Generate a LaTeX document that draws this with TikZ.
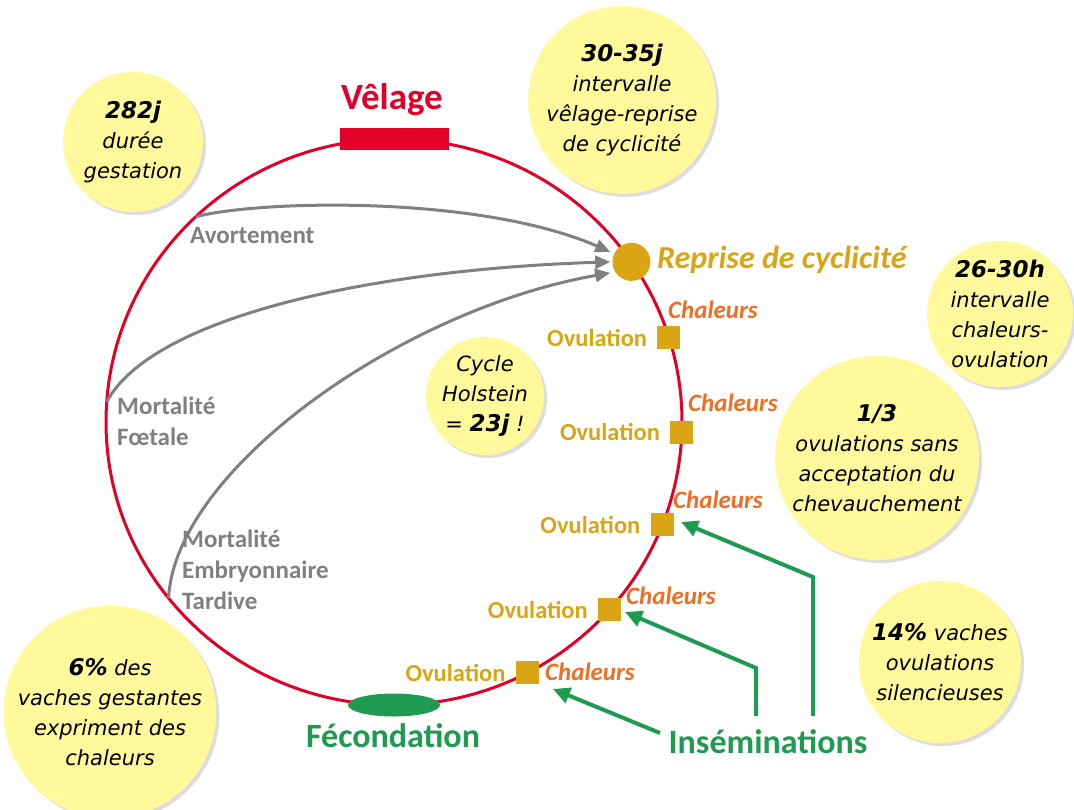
\documentclass[tikz,border=0pt]{standalone}
\usepackage{fontspec}
\setmainfont{Carlito}
\newfontfamily\hand{DejaVu Sans}
\usetikzlibrary{arrows.meta,shapes.geometric,shadows,calc}
\definecolor{cred}{RGB}{226,0,40}
\definecolor{gold}{RGB}{218,165,20}
\definecolor{orng}{RGB}{238,110,35}
\definecolor{greyt}{RGB}{128,128,128}
\definecolor{grn}{RGB}{30,155,80}
\definecolor{yel}{RGB}{255,249,155}
\newcommand\bnum[1]{{\bfseries\fontsize{23}{30}\selectfont #1}}
\begin{document}
\begin{tikzpicture}[x=1pt,y=1pt,
  bubble/.style={circle, fill=yel, draw=none, inner sep=0pt, align=center,
    drop shadow={shadow xshift=3pt, shadow yshift=-3pt, opacity=0.22, fill=black!60},
    font=\hand\itshape\fontsize{21}{30}\selectfont},
  sq/.style={rectangle, fill=gold, minimum size=23pt, inner sep=0pt},
  ovu/.style={text=gold, font=\bfseries\fontsize{24.5}{26}\selectfont, anchor=east, inner sep=2pt},
  chal/.style={text=orng, font=\bfseries\itshape\fontsize{25}{27}\selectfont, anchor=west, inner sep=0pt},
  greyl/.style={text=greyt, font=\bfseries\fontsize{25}{31}\selectfont, align=left, anchor=west, inner sep=0pt},
  greyarrow/.style={draw=greyt, line width=3pt, -{Triangle[length=15pt,width=13pt]}},
  greenarrow/.style={draw=grn, line width=4pt, -{Triangle[length=17pt,width=16pt]}},
  biglabel/.style={font=\bfseries\fontsize{34}{38}\selectfont, inner sep=0pt}
]
\useasboundingbox (0,0) rectangle (1074,-809);
\fill[white] (0,0) rectangle (1074,-809);

% main cycle
\node[ellipse, draw=cred, line width=3pt, minimum width=576pt, minimum height=566pt,
      inner sep=0pt, outer sep=0pt] (cyc) at (394,-422) {};

\node[rectangle, fill=cred, minimum width=109pt, minimum height=22pt, inner sep=0pt] (bar) at (cyc.90) {};
\node[font=\bfseries\fontsize{37}{40}\selectfont, inner sep=0pt, text=cred] (velage) at (392,-100) {Vêlage};

\node[ellipse, fill=grn, minimum width=92pt, minimum height=23pt, inner sep=0pt] (fec) at (cyc.270) {};
\node[biglabel, text=grn] (fecl) at (393,-736) {Fécondation};

\node[circle, fill=gold, minimum size=38pt, inner sep=0pt] (dot) at (cyc.34) {};
\node[anchor=west, text=gold, font=\bfseries\itshape\fontsize{32}{34}\selectfont, inner sep=0pt] (reprise) at (657,-260) {Reprise de cyclicité};

% ovulation squares
\node[sq] (sq1) at (cyc.17) {};
\node[sq] (sq2) at (cyc.358) {};
\node[sq] (sq3) at (cyc.339) {};
\node[sq] (sq4) at (cyc.319) {};
\node[sq] (sq5) at (cyc.298) {};
\node[ovu] (ov1) at ($(sq1.west)+(-8,0)$) {Ovulation};
\node[ovu] (ov2) at ($(sq2.west)+(-8,0)$) {Ovulation};
\node[ovu] (ov3) at ($(sq3.west)+(-8,0)$) {Ovulation};
\node[ovu] (ov4) at ($(sq4.west)+(-8,0)$) {Ovulation};
\node[ovu] (ov5) at ($(sq5.west)+(-8,0)$) {Ovulation};
\node[chal] (ch1) at (668,-310) {Chaleurs};
\node[chal] (ch2) at (688,-403) {Chaleurs};
\node[chal] (ch3) at (673,-500) {Chaleurs};
\node[chal] (ch4) at (626,-596) {Chaleurs};
\node[chal] (ch5) at (545,-672) {Chaleurs};

% grey labels and arrows
\node[greyl] (avort) at (190,-235) {Avortement};
\node[greyl] (foet) at (117,-421) {Mortalité\\Fœtale};
\node[greyl] (embr) at (182,-570) {Mortalité\\Embryonnaire\\Tardive};
\coordinate (a1) at (cyc.134);
\coordinate (a2) at (cyc.176);
\coordinate (a3) at (cyc.218);
\coordinate (e1) at ($(dot.west)+(-2,10)$);
\coordinate (e2) at ($(dot.west)+(-2,0)$);
\coordinate (e3) at ($(dot.west)+(-2,-11)$);
\draw[greyarrow] (a1) .. controls (260,-200) and (480,-195) .. (e1);
\draw[greyarrow] (a2) .. controls (150,-320) and (360,-270) .. (e2);
\draw[greyarrow] (a3) .. controls (175,-470) and (400,-310) .. (e3);

% inseminations
\node[biglabel, text=grn] (insem) at (768,-742) {Inséminations};
\coordinate (s1) at (660,-733);
\coordinate (s2) at (756,-716);
\coordinate (s3) at (813,-716);
\coordinate (t1) at (553,-689);
\coordinate (t2) at (625,-612);
\coordinate (t3) at (681,-522);
\draw[greenarrow] (s1) -- (t1);
\draw[greenarrow] (s2) -- (756,-668) -- (t2);
\draw[greenarrow] (s3) -- (813,-577) -- (t3);

% bubbles
\node[bubble, minimum size=140pt] (b282) at (133,-142) {\bnum{282j}\\durée\\gestation};
\node[bubble, minimum size=170pt] (b3035) at (622,-100) {\bnum{30-35j}\\intervalle\\vêlage-reprise\\de cyclicité};
\node[bubble, minimum size=146pt] (b2630) at (1000,-314) {\bnum{26-30h}\\intervalle\\chaleurs-\\ovulation};
\node[bubble, minimum size=204pt] (b13) at (877,-458) {\bnum{1/3}\\ovulations sans\\acceptation du\\chevauchement};
\node[bubble, minimum size=162pt] (b14) at (940,-662) {\bnum{14\%} vaches\\ovulations\\silencieuses};
\node[bubble, minimum size=206pt] (b6) at (110,-712) {\bnum{6\%} des\\vaches gestantes\\expriment des\\chaleurs};
\node[bubble, minimum size=116pt] (bcyc) at (485,-396) {Cycle\\Holstein\\= \bnum{23j} !};
\end{tikzpicture}
\end{document}
